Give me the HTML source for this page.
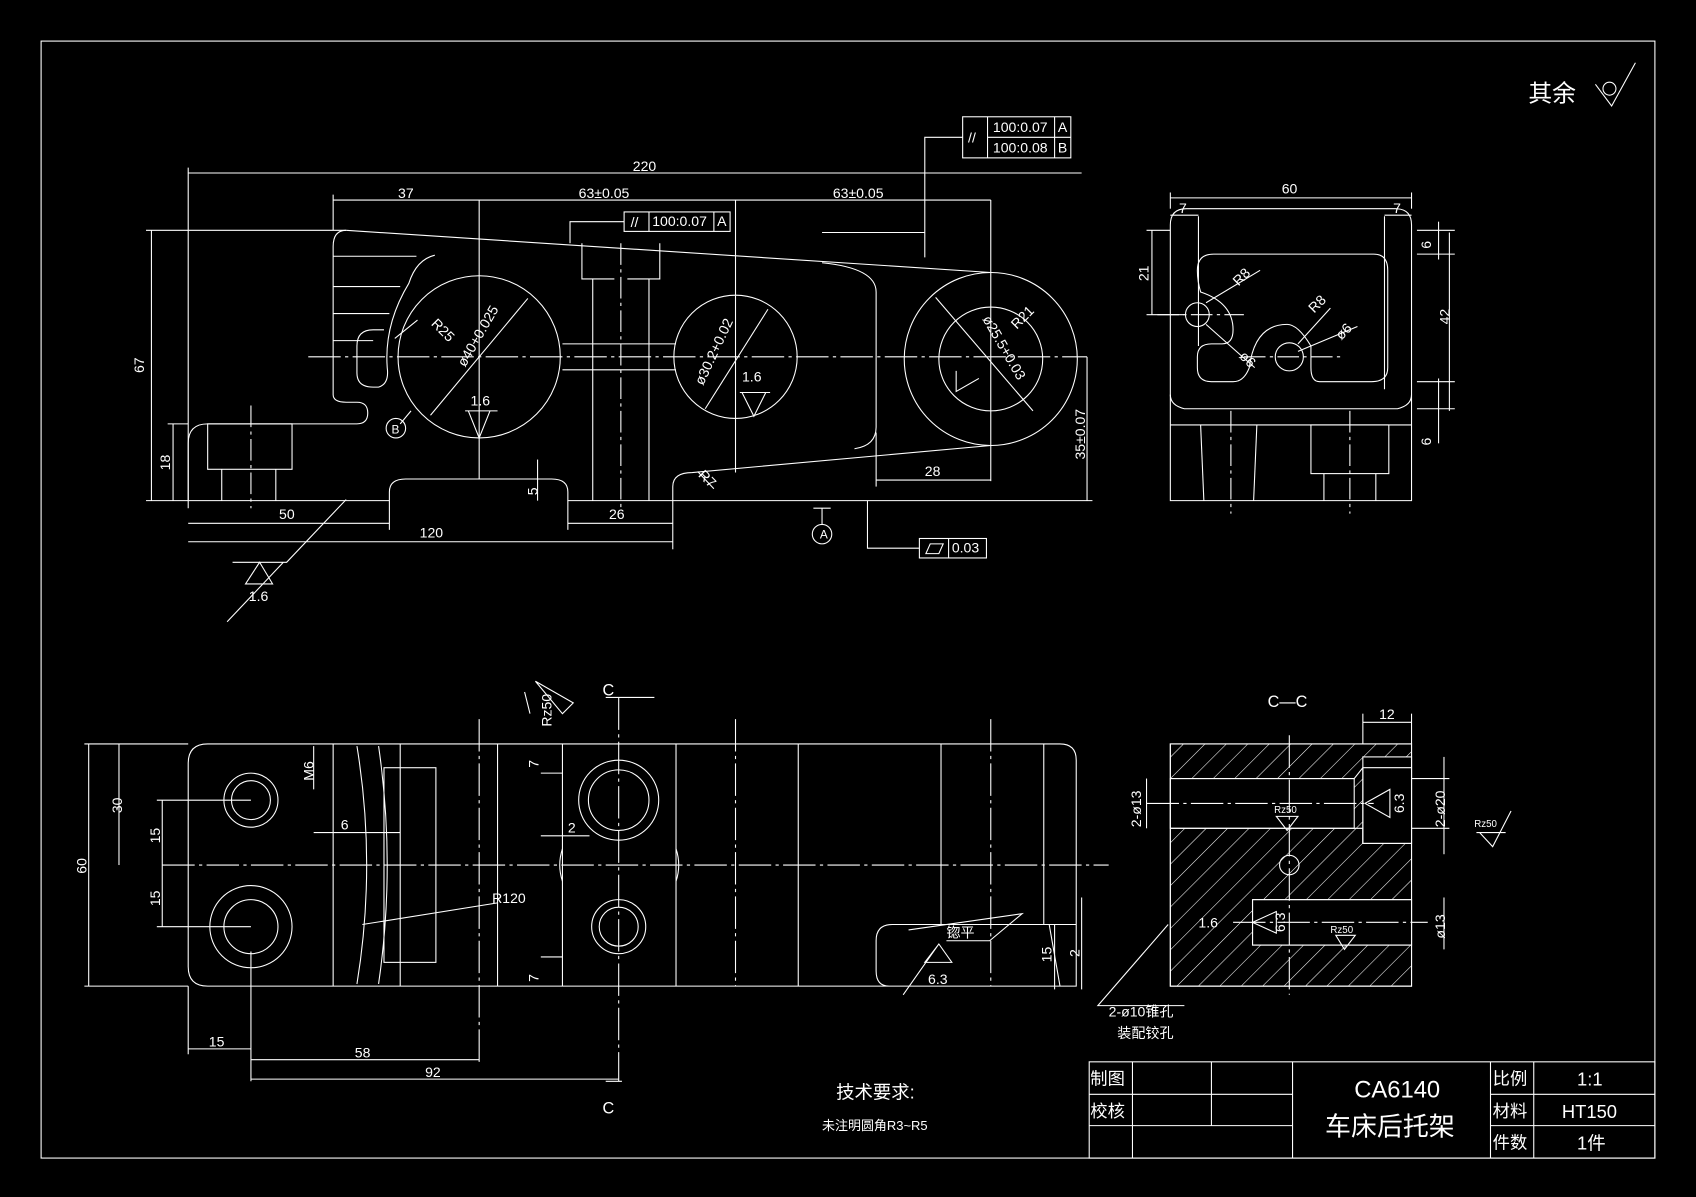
<!DOCTYPE html>
<html><head><meta charset="utf-8"><style>
html,body{margin:0;padding:0;background:#000;}
svg{display:block}
text{fill:#fff;font-family:"Liberation Sans","Noto Sans CJK SC",sans-serif;}
</style></head><body>
<svg width="1696" height="1197" viewBox="0 0 1568 1107" preserveAspectRatio="none" xmlns="http://www.w3.org/2000/svg">
<defs>
<pattern id="h" width="14" height="14" patternUnits="userSpaceOnUse" patternTransform="rotate(45)"><line x1="0" y1="0" x2="0" y2="14" stroke="#fff" stroke-width="1"/></pattern>
</defs>
<rect width="1568" height="1107" fill="#000"/>
<g fill="none" stroke="#fff" stroke-width="1">
<rect x="38" y="38" width="1492" height="1033"/>
<!-- title block -->
<rect x="1007" y="982" width="523" height="89"/>
<line x1="1007" y1="1012" x2="1195" y2="1012"/><line x1="1007" y1="1041" x2="1195" y2="1041"/>
<line x1="1378" y1="1012" x2="1530" y2="1012"/><line x1="1378" y1="1041" x2="1530" y2="1041"/>
<line x1="1047" y1="982" x2="1047" y2="1071"/><line x1="1120" y1="982" x2="1120" y2="1041"/>
<line x1="1195" y1="982" x2="1195" y2="1071"/><line x1="1378" y1="982" x2="1378" y2="1071"/><line x1="1418" y1="982" x2="1418" y2="1071"/>
<!-- surface symbol top right -->
<path d="M1475 78 L1490 98 L1512 58"/><circle cx="1488" cy="82" r="6"/>

<!-- TOP FRONT VIEW -->
<path d="M320 213 L916 252"/>
<path d="M320 213 Q308 213 308 228 L308 365 Q308 372 320 372 L330 372 Q340 372 340 382 Q340 392 330 392 L192 392 Q174 392 174 410 L174 463 L360 463 L360 455 Q360 443 375 443 L510 443 Q525 443 525 455 L525 463 L622 463 L622 450 Q622 437 640 437 L916 412"/>
<path d="M760 243 Q810 248 810 270 L810 395 Q810 412 790 415"/>
<circle cx="916" cy="332" r="80"/><circle cx="916" cy="332" r="48"/>
<circle cx="443" cy="330" r="75"/>
<circle cx="680" cy="330" r="57"/>
<path d="M402 236 Q385 240 378 262 Q355 300 358 340 Q360 355 350 358 L345 358 Q330 358 330 345 L330 320 Q330 305 345 305 L355 305"/>
<line x1="308" y1="237" x2="385" y2="237"/><line x1="308" y1="265" x2="370" y2="265"/><line x1="308" y1="290" x2="360" y2="290"/>
<line x1="308" y1="315" x2="345" y2="315"/>
<rect x="192" y="392" width="78" height="42"/>
<line x1="205" y1="434" x2="205" y2="463"/><line x1="255" y1="434" x2="255" y2="463"/>
<line x1="232" y1="375" x2="232" y2="470" stroke-dasharray="20 4 3 4"/>
<path d="M538 225 L538 258 L568 258 M580 258 L610 258 L610 225"/>
<line x1="548" y1="258" x2="548" y2="463"/><line x1="600" y1="258" x2="600" y2="463"/>
<line x1="574" y1="225" x2="574" y2="470" stroke-dasharray="20 4 3 4"/>
<line x1="520" y1="318" x2="625" y2="318"/><line x1="520" y1="342" x2="625" y2="342"/>
<line x1="285" y1="330" x2="1005" y2="330" stroke-dasharray="30 4 3 4"/>
<line x1="443" y1="185" x2="443" y2="443"/><line x1="680" y1="185" x2="680" y2="437"/><line x1="916" y1="185" x2="916" y2="445"/>
<!-- dims top -->
<line x1="174" y1="160" x2="1000" y2="160"/><line x1="174" y1="155" x2="174" y2="470"/>
<line x1="308" y1="185" x2="916" y2="185"/><line x1="308" y1="180" x2="308" y2="213"/>
<line x1="135" y1="213" x2="320" y2="213"/><line x1="140" y1="213" x2="140" y2="463"/>
<line x1="135" y1="463" x2="174" y2="463"/><line x1="160" y1="392" x2="160" y2="463"/><line x1="155" y1="392" x2="174" y2="392"/>
<line x1="174" y1="484" x2="360" y2="484"/><line x1="360" y1="463" x2="360" y2="490"/>
<line x1="174" y1="501" x2="622" y2="501"/><line x1="622" y1="463" x2="622" y2="508"/>
<line x1="525" y1="484" x2="622" y2="484"/><line x1="525" y1="463" x2="525" y2="490"/>
<line x1="1005" y1="330" x2="1005" y2="463"/><line x1="622" y1="463" x2="1010" y2="463"/>
<line x1="810" y1="444" x2="916" y2="444"/><line x1="810" y1="400" x2="810" y2="450"/>
<line x1="497" y1="425" x2="497" y2="463"/>
<line x1="645" y1="436" x2="660" y2="452"/>
<!-- leaders -->
<path d="M320 462 L265 520 L215 520 M262 520 L210 575"/>
<path d="M227 540 L240 520 L252 540 Z"/>
<path d="M370 392 L380 380"/>
<circle cx="366" cy="396" r="9"/>
<path d="M386 296 L365 313"/>
<line x1="398" y1="384" x2="488" y2="276"/>
<line x1="652" y1="378" x2="710" y2="286"/>
<line x1="865" y1="275" x2="955" y2="380"/>
<path d="M433 380 L443 405 L453 380 Z M430 380 L460 380"/>
<path d="M686 363 L697 385 L708 363 Z M684 363 L712 363"/>
<path d="M884 343 L884 362 L905 350"/>
<path d="M527 225 L527 205 L577 205"/><rect x="577" y="196" width="98" height="18"/><line x1="600" y1="196" x2="600" y2="214"/><line x1="660" y1="196" x2="660" y2="214"/>
<path d="M855 238 L855 127 L890 127"/><rect x="890" y="108" width="100" height="38"/><line x1="913" y1="108" x2="913" y2="146"/><line x1="975" y1="108" x2="975" y2="146"/><line x1="913" y1="127" x2="990" y2="127"/>
<line x1="760" y1="215" x2="855" y2="215"/>
<path d="M802 463 L802 507 L850 507"/><rect x="850" y="498" width="62" height="18"/><line x1="877" y1="498" x2="877" y2="516"/>
<path d="M856 512 L860 503 L872 503 L868 512 Z"/>
<path d="M760 470 L760 485 M752 470 L768 470"/><circle cx="760" cy="494" r="9"/>

<!-- SIDE VIEW TOP RIGHT -->
<path d="M1082 208 Q1082 193 1097 193 L1290 193 Q1305 193 1305 208 L1305 463 L1082 463 Z"/>
<line x1="1082" y1="393" x2="1305" y2="393"/>
<path d="M1082 365 Q1082 375 1095 378 L1292 378 Q1305 375 1305 365"/>
<path d="M1122 235 L1270 235 Q1283 235 1283 250 L1283 340 Q1283 353 1268 353 L1220 353 Q1212 353 1212 340 L1212 320 Q1200 300 1190 300 Q1160 300 1155 340 Q1150 353 1140 353 L1120 353 Q1107 353 1107 340 L1107 330 Q1107 318 1120 318 L1130 318 Q1140 318 1140 305 Q1140 280 1110 270 Q1107 260 1107 250 Q1107 235 1122 235 Z"/>
<circle cx="1107" cy="291" r="11"/><circle cx="1192" cy="330" r="13"/>
<line x1="1070" y1="291" x2="1150" y2="291" stroke-dasharray="20 4 3 4"/><line x1="1150" y1="330" x2="1240" y2="330" stroke-dasharray="20 4 3 4"/>
<line x1="1108" y1="200" x2="1108" y2="320"/><line x1="1280" y1="200" x2="1280" y2="360"/>
<line x1="1082" y1="183" x2="1305" y2="183"/>
<line x1="1082" y1="178" x2="1082" y2="193"/><line x1="1305" y1="178" x2="1305" y2="193"/>
<line x1="1082" y1="199" x2="1108" y2="199"/><line x1="1280" y1="199" x2="1305" y2="199"/>
<line x1="1065" y1="213" x2="1065" y2="291"/><line x1="1060" y1="213" x2="1082" y2="213"/><line x1="1060" y1="291" x2="1095" y2="291"/>
<line x1="1310" y1="213" x2="1345" y2="213"/><line x1="1310" y1="235" x2="1345" y2="235"/><line x1="1310" y1="353" x2="1345" y2="353"/><line x1="1310" y1="378" x2="1345" y2="378"/>
<line x1="1340" y1="215" x2="1340" y2="380"/>
<line x1="1330" y1="205" x2="1330" y2="240"/><line x1="1330" y1="350" x2="1330" y2="410"/>
<line x1="1115" y1="280" x2="1165" y2="250"/><line x1="1200" y1="318" x2="1230" y2="285"/>
<line x1="1200" y1="325" x2="1255" y2="302"/><line x1="1115" y1="300" x2="1160" y2="340"/>
<rect x="1212" y="393" width="72" height="45"/><line x1="1224" y1="438" x2="1224" y2="463"/><line x1="1272" y1="438" x2="1272" y2="463"/>
<line x1="1110" y1="393" x2="1113" y2="463"/><line x1="1162" y1="393" x2="1159" y2="463"/>
<line x1="1138" y1="380" x2="1138" y2="475" stroke-dasharray="20 4 3 4"/><line x1="1248" y1="380" x2="1248" y2="475" stroke-dasharray="20 4 3 4"/>

<!-- BOTTOM VIEW -->
<path d="M192 688 L980 688 Q995 688 995 703 L995 912 L822 912 Q810 912 810 898 L810 870 Q810 855 825 855 L995 855 M192 688 Q174 688 174 706 L174 894 Q174 912 192 912 L822 912"/>
<circle cx="232" cy="740" r="25"/><circle cx="232" cy="740" r="18"/>
<circle cx="232" cy="857" r="38"/><circle cx="232" cy="857" r="25"/>
<circle cx="572" cy="740" r="37"/><circle cx="572" cy="740" r="28"/>
<circle cx="572" cy="857" r="25"/><circle cx="572" cy="857" r="18"/>
<line x1="308" y1="688" x2="308" y2="912"/><line x1="370" y1="688" x2="370" y2="912"/><line x1="460" y1="688" x2="460" y2="912"/>
<line x1="520" y1="688" x2="520" y2="912"/><line x1="625" y1="688" x2="625" y2="912"/><line x1="738" y1="688" x2="738" y2="912"/>
<line x1="870" y1="688" x2="870" y2="855"/><line x1="965" y1="688" x2="965" y2="855"/>
<path d="M330 690 Q348 800 330 910"/><path d="M350 690 Q366 800 350 910"/>
<rect x="355" y="710" width="48" height="180"/>
<line x1="150" y1="800" x2="1025" y2="800" stroke-dasharray="30 4 3 4"/>
<line x1="443" y1="665" x2="443" y2="985" stroke-dasharray="30 4 3 4"/><line x1="680" y1="665" x2="680" y2="912" stroke-dasharray="30 4 3 4"/><line x1="916" y1="665" x2="916" y2="912" stroke-dasharray="30 4 3 4"/>
<line x1="572" y1="645" x2="572" y2="1000" stroke-dasharray="30 4 3 4"/>
<path d="M560 645 L605 645 M560 1000 L575 1000"/>
<path d="M520 785 Q515 800 520 815 M625 785 Q630 800 625 815"/>
<line x1="78" y1="688" x2="174" y2="688"/><line x1="78" y1="912" x2="174" y2="912"/>
<line x1="82" y1="688" x2="82" y2="912"/><line x1="110" y1="688" x2="110" y2="800"/>
<line x1="145" y1="740" x2="232" y2="740"/><line x1="145" y1="857" x2="232" y2="857"/>
<line x1="150" y1="740" x2="150" y2="857"/>
<line x1="174" y1="912" x2="174" y2="975"/><line x1="232" y1="880" x2="232" y2="1000"/>
<line x1="174" y1="970" x2="232" y2="970"/><line x1="232" y1="980" x2="443" y2="980"/><line x1="232" y1="998" x2="572" y2="998"/>
<line x1="290" y1="690" x2="290" y2="730"/><line x1="290" y1="770" x2="370" y2="770"/>
<line x1="500" y1="715" x2="520" y2="715"/><line x1="500" y1="885" x2="520" y2="885"/>
<line x1="500" y1="773" x2="545" y2="773"/>
<line x1="335" y1="855" x2="460" y2="835"/>
<line x1="970" y1="855" x2="980" y2="912"/><line x1="975" y1="855" x2="975" y2="915"/><line x1="1000" y1="830" x2="1000" y2="915"/>
<path d="M840 860 L945 845 L915 870 L875 870"/>
<path d="M855 890 L868 873 L880 890 Z M835 920 L868 873"/>
<path d="M485 640 L490 660 M495 630 L530 650 L520 660 Z"/>

<!-- C-C SECTION -->
<rect x="1082" y="688" width="223" height="224" fill="url(#h)"/>
<rect x="1082" y="720" width="170" height="46" fill="#000"/>
<rect x="1158" y="832" width="147" height="42" fill="#000"/>
<rect x="1260" y="700" width="45" height="80" fill="#000"/>
<rect x="1082" y="688" width="223" height="224"/>
<path d="M1082 720 L1252 720 L1260 710 L1305 710 M1082 766 L1260 766 L1260 780 L1305 780"/>
<path d="M1158 832 L1305 832 M1158 832 L1158 874 L1305 874"/>
<path d="M1260 710 L1260 780 M1262 743 L1285 730 L1285 756 Z"/>
<path d="M1180 843 L1158 853 L1180 863 Z"/>
<circle cx="1192" cy="800" r="9"/>
<line x1="1060" y1="743" x2="1270" y2="743" stroke-dasharray="30 4 3 4"/><line x1="1140" y1="853" x2="1320" y2="853" stroke-dasharray="30 4 3 4"/>
<line x1="1192" y1="680" x2="1192" y2="920" stroke-dasharray="30 4 3 4"/>
<line x1="1260" y1="668" x2="1305" y2="668"/><line x1="1305" y1="660" x2="1305" y2="688"/><line x1="1260" y1="660" x2="1260" y2="688"/>
<line x1="1060" y1="720" x2="1060" y2="766"/><line x1="1335" y1="700" x2="1335" y2="790"/><line x1="1335" y1="830" x2="1335" y2="878"/>
<line x1="1305" y1="720" x2="1340" y2="720"/><line x1="1305" y1="766" x2="1340" y2="766"/>
<path d="M1080 855 L1015 930 L1095 930"/>
<path d="M1180 755 L1190 768 L1200 755 Z M1235 865 L1243 878 L1253 865 Z"/>
<path d="M1368 770 L1380 783 L1397 750 M1365 770 L1392 770"/>
</g>
<g font-size="13">
<text x="1413" y="94" font-size="22">其余</text>
<text x="585" y="158">220</text><text x="368" y="183">37</text><text x="535" y="183">63±0.05</text><text x="770" y="183">63±0.05</text>
<text x="603" y="209">100:0.07</text><text x="663" y="209">A</text><text x="583" y="210">//</text>
<text x="918" y="122">100:0.07</text><text x="978" y="122">A</text><text x="918" y="141">100:0.08</text><text x="978" y="141">B</text><text x="895" y="132">//</text>
<text x="880" y="511">0.03</text>
<text x="758" y="498" font-size="11">A</text><text x="362" y="401" font-size="11">B</text>
<text x="258" y="480">50</text><text x="388" y="497">120</text><text x="563" y="480">26</text><text x="855" y="440">28</text>
<text x="230" y="556">1.6</text><text x="435" y="375">1.6</text><text x="686" y="353">1.6</text>
<text transform="translate(133 345) rotate(-90)">67</text><text transform="translate(157 435) rotate(-90)">18</text>
<text transform="translate(1003 425) rotate(-90)">35±0.07</text><text transform="translate(497 458) rotate(-90)">5</text>
<text transform="translate(430 340) rotate(-60)">ø40+0.025</text><text transform="translate(650 357) rotate(-65)">ø30.2+0.02</text>
<text transform="translate(398 300) rotate(45)">R25</text><text transform="translate(908 295) rotate(60)">ø25.5+0.03</text>
<text transform="translate(940 305) rotate(-45)">R21</text><text transform="translate(645 440) rotate(45)">R7</text>
<text x="1185" y="179">60</text><text x="1090" y="197">7</text><text x="1288" y="197">7</text>
<text transform="translate(1062 260) rotate(-90)">21</text><text transform="translate(1340 300) rotate(-90)">42</text>
<text transform="translate(1323 230) rotate(-90)">6</text><text transform="translate(1323 412) rotate(-90)">6</text>
<text transform="translate(1145 265) rotate(-45)">R8</text><text transform="translate(1215 290) rotate(-45)">R8</text>
<text transform="translate(1240 315) rotate(-45)">ø6</text><text transform="translate(1145 330) rotate(45)">ø6</text>
<text x="557" y="643" font-size="15">C</text><text x="557" y="1030" font-size="15">C</text>
<text transform="translate(510 672) rotate(-90)">Rz50</text>
<text transform="translate(113 752) rotate(-90)">30</text><text transform="translate(80 808) rotate(-90)">60</text>
<text transform="translate(148 780) rotate(-90)">15</text><text transform="translate(148 838) rotate(-90)">15</text>
<text transform="translate(290 722) rotate(-90)">M6</text><text x="315" y="767">6</text><text x="525" y="770">2</text>
<text transform="translate(498 710) rotate(-90)">7</text><text transform="translate(498 908) rotate(-90)">7</text>
<text x="455" y="835">R120</text><text x="875" y="867">锪平</text><text x="858" y="910">6.3</text>
<text transform="translate(972 890) rotate(-90)">15</text><text transform="translate(998 885) rotate(-90)">2</text>
<text x="193" y="968">15</text><text x="328" y="978">58</text><text x="393" y="996">92</text>
<text x="773" y="1016" font-size="17">技术要求:</text><text x="760" y="1045" font-size="12">未注明圆角R3~R5</text>
<text x="1172" y="654" font-size="15">C—C</text><text x="1275" y="665">12</text>
<text transform="translate(1055 765) rotate(-90)">2-ø13</text><text transform="translate(1336 765) rotate(-90)">2-ø20</text>
<text transform="translate(1336 868) rotate(-90)">ø13</text><text transform="translate(1298 752) rotate(-90)">6.3</text>
<text transform="translate(1188 862) rotate(-90)">6.3</text>
<text x="1178" y="752" font-size="9">Rz50</text><text x="1230" y="863" font-size="9">Rz50</text><text x="1363" y="765" font-size="9">Rz50</text>
<text x="1108" y="858">1.6</text>
<text x="1025" y="940">2-ø10锥孔</text><text x="1033" y="960">装配铰孔</text>
<text x="1008" y="1003" font-size="16">制图</text><text x="1008" y="1033" font-size="16">校核</text>
<text x="1252" y="1015" font-size="22" font-family="Liberation Serif,serif">CA6140</text>
<text x="1225" y="1050" font-size="24">车床后托架</text>
<text x="1380" y="1003" font-size="16">比例</text><text x="1380" y="1033" font-size="16">材料</text><text x="1380" y="1062" font-size="16">件数</text>
<text x="1458" y="1004" font-size="17" font-family="Liberation Serif,serif">1:1</text>
<text x="1444" y="1034" font-size="17" font-family="Liberation Serif,serif">HT150</text>
<text x="1458" y="1063" font-size="17">1件</text>
</g>
</svg>
</body></html>
